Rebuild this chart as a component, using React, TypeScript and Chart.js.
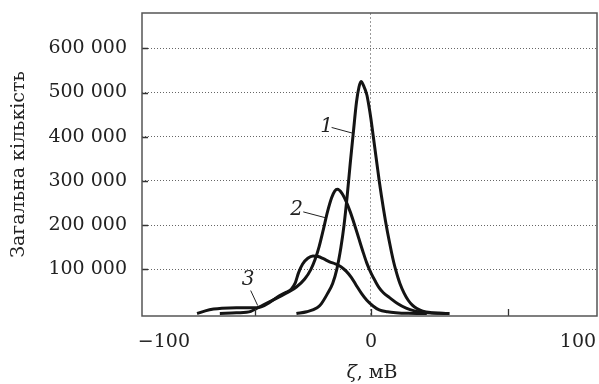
import React, { useEffect, useRef } from 'react';
import { Chart, registerables } from 'chart.js';

Chart.register(...registerables);

const SERIF = '"DejaVu Serif", serif';

// ---- data ----
const xTickLabels = [-100, 0, 100];
const xTickMarks = [-56, 0, 66];
const yTickValues = [100000, 200000, 300000, 400000, 500000, 600000];

const curve1X = [-36, -31, -26, -24, -21, -18.5, -16.5, -14.5, -13, -11.5, -10, -8.5, -7, -5.8, -4.8, -3.5, -2, -1, 0, 1, 2, 3, 4, 5, 6, 7, 8, 9, 10, 11, 12, 13, 14, 16, 18, 20, 22, 25, 29, 36];
const curve1Y = [0, 4000, 13000, 22000, 45000, 68000, 100000, 150000, 200000, 265000, 340000, 410000, 478000, 512000, 525000, 515000, 495000, 470000, 440000, 405000, 370000, 335000, 300000, 268000, 238000, 210000, 184000, 160000, 137000, 116000, 98000, 82000, 68000, 46000, 30000, 19000, 12000, 5500, 2000, 0];

const curve2X = [-73, -65, -58, -55, -50, -45, -40, -36, -32, -29, -27, -25, -23, -21, -19, -17.5, -16.2, -14, -12, -10, -8, -6, -4, -2, 0, 2, 4, 6, 9, 13, 17, 21, 27, 33, 38];
const curve2Y = [0, 1500, 5000, 12000, 24000, 36000, 48000, 60000, 78000, 100000, 122000, 152000, 190000, 230000, 262000, 277000, 281000, 272000, 254000, 230000, 202000, 172000, 142000, 114000, 92000, 74000, 58000, 47000, 36000, 22000, 12000, 6000, 2000, 500, 0];

const curve3X = [-84, -80, -76, -72, -65, -58, -53, -49, -45, -41, -38.5, -36.5, -35, -33, -30.5, -28, -25.5, -23, -20, -17, -14.5, -12, -9.5, -7, -4.5, -2, 1, 4, 8, 12, 18, 27];
const curve3Y = [0, 6000, 10000, 12000, 13000, 13000, 15000, 25000, 38000, 48000, 55000, 70000, 92000, 112000, 125000, 130000, 129000, 124000, 117000, 112000, 106000, 96000, 82000, 63000, 45000, 30000, 17000, 8000, 4000, 2000, 500, 0];

const curveLabels = ['1', '2', '3'];
const labelX = [-21.4, -35.9, -59.3];
const labelY = [422000, 234000, 76000];
const leaderFromX = [-19, -32.7, -58.1];
const leaderFromY = [421000, 230000, 52000];
const leaderToX = [-8.8, -22.2, -54.7];
const leaderToY = [408000, 217000, 18000];

const xTitleSymbol = 'ζ';
const xTitleRest = ', мВ';
const yTitle = 'Загальна кількість';

const toPoints = (xs: number[], ys: number[]) => xs.map((x, i) => ({ x, y: ys[i] }));

const fmtY = (v: number) => {
  const s = String(Math.round(v));
  return s.replace(/\B(?=(\d{3})+(?!\d))/g, ' ');
};

const zeroPad = (s: any) => {
  s.paddingTop = 0;
  s.paddingBottom = 0;
  s.paddingLeft = 0;
  s.paddingRight = 0;
};

const decorPlugin = {
  id: 'decor',
  afterDatasetsDraw(chart: any) {
    const { ctx, chartArea: a, scales } = chart;
    const x = scales.x;
    const y = scales.y;
    ctx.save();
    // inward tick marks
    ctx.strokeStyle = '#333';
    ctx.lineWidth = 1.3;
    ctx.beginPath();
    xTickMarks.forEach((v) => {
      const px = Math.round(x.getPixelForValue(v)) + 0.5;
      ctx.moveTo(px, a.bottom);
      ctx.lineTo(px, a.bottom - 7);
    });
    yTickValues.forEach((v) => {
      const py = Math.round(y.getPixelForValue(v)) + 0.5;
      ctx.moveTo(a.left, py);
      ctx.lineTo(a.left + 6, py);
    });
    ctx.stroke();
    // frame
    ctx.strokeStyle = '#555';
    ctx.lineWidth = 1.5;
    ctx.strokeRect(a.left, a.top, a.right - a.left, a.bottom - a.top);
    // curve labels with leader lines
    ctx.strokeStyle = '#222';
    ctx.lineWidth = 1;
    ctx.fillStyle = '#222';
    ctx.font = 'italic 20px ' + SERIF;
    ctx.textAlign = 'center';
    ctx.textBaseline = 'middle';
    curveLabels.forEach((t, i) => {
      ctx.beginPath();
      ctx.moveTo(x.getPixelForValue(leaderFromX[i]), y.getPixelForValue(leaderFromY[i]));
      ctx.lineTo(x.getPixelForValue(leaderToX[i]), y.getPixelForValue(leaderToY[i]));
      ctx.stroke();
      ctx.fillText(t, x.getPixelForValue(labelX[i]), y.getPixelForValue(labelY[i]));
    });
    // x axis title: italic zeta + upright units
    const fItalic = 'italic 19px ' + SERIF;
    const fNormal = '19px ' + SERIF;
    ctx.font = fItalic;
    const w1 = ctx.measureText(xTitleSymbol).width;
    ctx.font = fNormal;
    const w2 = ctx.measureText(xTitleRest).width;
    const cx = x.getPixelForValue(0) + 1;
    const cy = 373;
    const sx = cx - (w1 + w2) / 2;
    ctx.textAlign = 'left';
    ctx.font = fItalic;
    ctx.fillText(xTitleSymbol, sx, cy);
    ctx.font = fNormal;
    ctx.fillText(xTitleRest, sx + w1, cy);
    ctx.restore();
  },
};

export default function App() {
  const ref = useRef<HTMLCanvasElement>(null);
  useEffect(() => {
    document.body.style.margin = '0';
    const canvas = ref.current;
    if (!canvas) return;
    const lineStyle = {
      borderColor: '#141414',
      borderWidth: 3,
      pointRadius: 0,
      fill: false,
      cubicInterpolationMode: 'monotone' as const,
      tension: 0.4,
    };
    const chart = new Chart(canvas, {
      type: 'line',
      data: {
        datasets: [
          { label: '1', data: toPoints(curve1X, curve1Y), ...lineStyle },
          { label: '2', data: toPoints(curve2X, curve2Y), ...lineStyle },
          { label: '3', data: toPoints(curve3X, curve3Y), ...lineStyle },
        ],
      },
      options: {
        animation: false,
        responsive: false,
        devicePixelRatio: 1,
        layout: { padding: { top: 13, right: 2, left: 0, bottom: 0 } },
        plugins: {
          legend: { display: false },
          tooltip: { enabled: false },
        },
        scales: {
          x: {
            type: 'linear',
            min: -110.6,
            max: 109.2,
            afterBuildTicks: (s: any) => {
              s.ticks = xTickLabels.map((v) => ({ value: v }));
            },
            afterFit: (s: any) => {
              s.height = 68;
              zeroPad(s);
            },
            ticks: {
              font: { family: SERIF, size: 19 },
              color: '#222',
              padding: 15,
              maxRotation: 0,
              callback: (v: any) => (Number(v) < 0 ? '−' + Math.abs(Number(v)) : String(v)),
            },
            grid: {
              drawTicks: false,
              lineWidth: 1,
              color: (c: any) => (c.tick && c.tick.value === 0 ? '#9a9a9a' : 'rgba(0,0,0,0)'),
            },
            border: { display: false, dash: [2, 2] },
          },
          y: {
            type: 'linear',
            min: -5600,
            max: 680000,
            afterBuildTicks: (s: any) => {
              s.ticks = yTickValues.map((v) => ({ value: v }));
            },
            afterFit: (s: any) => {
              s.width = 142;
              zeroPad(s);
            },
            ticks: {
              font: { family: SERIF, size: 19 },
              color: '#222',
              padding: 15,
              callback: (v: any) => fmtY(Number(v)),
            },
            grid: {
              drawTicks: false,
              lineWidth: 1,
              color: '#666',
            },
            border: { display: false, dash: [1, 2] },
            title: {
              display: true,
              text: yTitle,
              font: { family: SERIF, size: 19, lineHeight: 1.2 },
              color: '#222',
              padding: { top: 7.5, bottom: 0 },
            },
          },
        },
      },
      plugins: [decorPlugin],
    } as any);
    return () => chart.destroy();
  }, []);
  return (
    <div style={{ width: 599, height: 384 }}>
      <canvas ref={ref} width={599} height={384} style={{ display: 'block' }} />
    </div>
  );
}
